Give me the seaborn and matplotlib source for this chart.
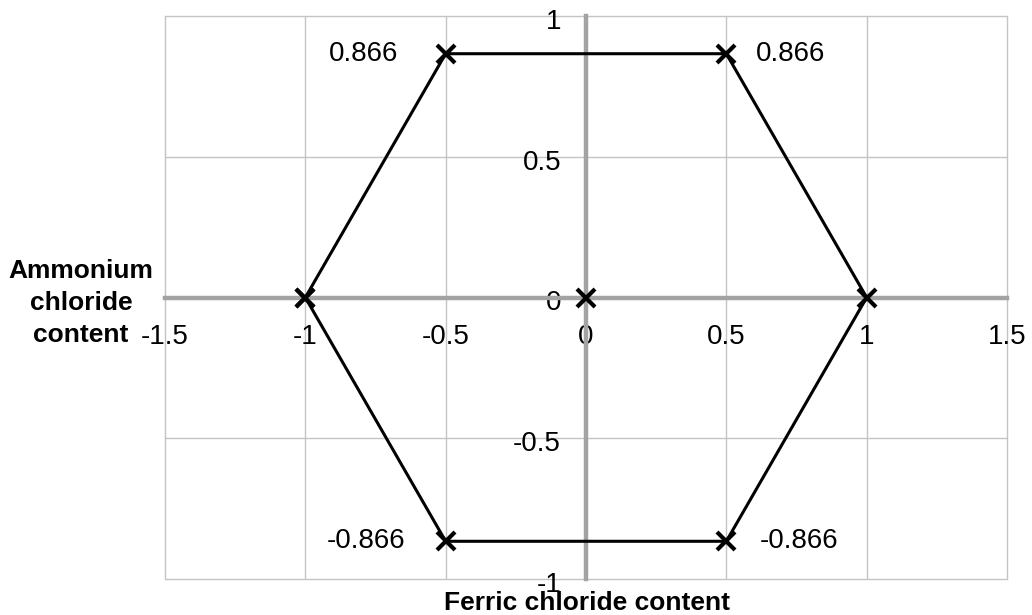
import pandas as pd
import matplotlib
matplotlib.use("Agg")
import matplotlib.pyplot as plt
import matplotlib.transforms as mtransforms
import seaborn as sns

# Data
hex_x = [-1, -0.5, 0.5, 1, 0.5, -0.5, -1]
hex_y = [0, 0.866, 0.866, 0, -0.866, -0.866, 0]
center_x = [0]
center_y = [0]
label_pts = [(-0.5, 0.866), (0.5, 0.866), (-0.5, -0.866), (0.5, -0.866)]
x_ticks = [-1.5, -1, -0.5, 0, 0.5, 1, 1.5]
x_ticklabels = ['-1.5', '-1', '-0.5', '0', '0.5', '1', '1.5']
y_ticks = [-1, -0.5, 0, 0.5, 1]
y_ticklabels = ['-1', '-0.5', '0', '0.5', '1']
y_title_lines = ['Ammonium', 'chloride', 'content']

sns.set_style("white")
plt.rcParams['font.family'] = ['Liberation Sans', 'DejaVu Sans']
plt.rcParams['text.color'] = 'black'

GRID = '#c4c4c4'
AXIS = '#a3a3a3'

fig = plt.figure(figsize=(10.32, 6.15), dpi=100)
ax = fig.add_axes([165 / 1032, 1 - 579 / 615, (1007 - 165) / 1032, (579 - 16) / 615])

df = pd.DataFrame({'x': hex_x, 'y': hex_y})
sns.lineplot(data=df, x='x', y='y', sort=False, estimator=None, ax=ax,
             color='black', linewidth=2.2, marker='x', markersize=13,
             markeredgewidth=3, markeredgecolor='black', zorder=5)
sns.lineplot(x=center_x, y=center_y, ax=ax, color='black', marker='x',
             markersize=13, markeredgewidth=3, markeredgecolor='black',
             linewidth=0, zorder=5)

ax.set_xlim(-1.5, 1.5)
ax.set_ylim(-1, 1)

# grid incl. borders
for xv in x_ticks:
    ax.axvline(xv, color=GRID, linewidth=1, zorder=0, clip_on=False)
for yv in y_ticks:
    ax.axhline(yv, color=GRID, linewidth=1, zorder=0, clip_on=False)

# spines through origin
for s in ['top', 'right']:
    ax.spines[s].set_visible(False)
ax.spines['left'].set_position(('data', 0))
ax.spines['bottom'].set_position(('data', 0))
for s in ['left', 'bottom']:
    ax.spines[s].set_color(AXIS)
    ax.spines[s].set_linewidth(3.2)
    ax.spines[s].set_zorder(2)

ax.set_xticks(x_ticks)
ax.set_xticklabels(x_ticklabels)
ax.set_yticks(y_ticks)
ax.set_yticklabels(y_ticklabels)
ax.tick_params(axis='both', direction='out', length=3, width=2.5, color=AXIS,
               labelsize=20, labelcolor='black')
ax.tick_params(axis='x', pad=16)
ax.tick_params(axis='y', pad=15)
# y labels sit a little below their gridlines
shift = mtransforms.ScaledTranslation(0, -0.03, fig.dpi_scale_trans)
for lbl in ax.get_yticklabels():
    lbl.set_transform(lbl.get_transform() + shift)
ax.set_xlabel('')
ax.set_ylabel('')

# data labels
for px, py in label_pts:
    txt = '0.866' if py > 0 else '-0.866'
    if px < 0:
        ax.annotate(txt, (px, py), xytext=(-47 if py > 0 else -40, 0),
                    textcoords='offset pixels', ha='right', va='center', fontsize=20)
    else:
        ax.annotate(txt, (px, py), xytext=(30 if py > 0 else 33, 0),
                    textcoords='offset pixels', ha='left', va='center', fontsize=20)

# axis titles (y title as three centred lines)
for i, line in enumerate(y_title_lines):
    fig.text(81 / 1032, 1 - (278 + 32 * i) / 615, line, ha='center',
             va='baseline', fontsize=19, fontweight='bold')
fig.text(587 / 1032, 1 - 610 / 615, 'Ferric chloride content', ha='center',
         va='baseline', fontsize=19, fontweight='bold')

fig.savefig('out.png', dpi=100)
